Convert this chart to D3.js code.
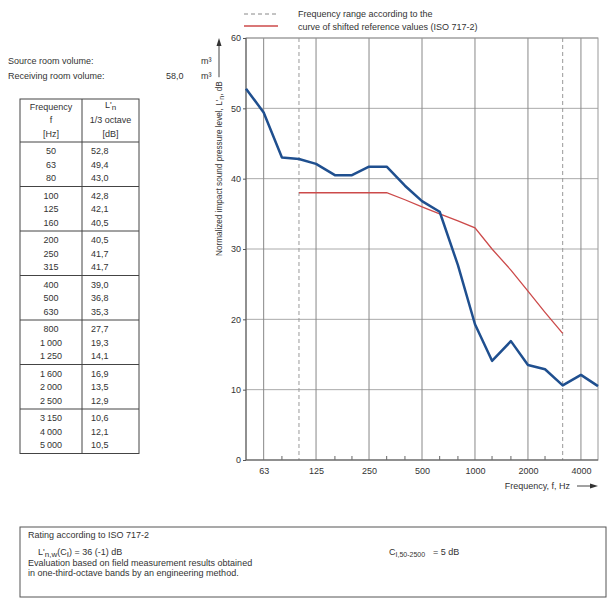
<!DOCTYPE html>
<html>
<head>
<meta charset="utf-8">
<script src="https://cdn.jsdelivr.net/npm/d3@7"></script>
<style>
  body { margin: 0; background: #fff; }
  svg { display: block; font-family: "Liberation Sans", Arial, sans-serif; }
  text { fill: #333; font-size: 9px; }
</style>
</head>
<body>
<script>
(function() {
  'use strict';

  // 1/3 octave band centre frequencies and measured L'n
  const freqs = [50, 63, 80, 100, 125, 160, 200, 250, 315, 400, 500, 630,
    800, 1000, 1250, 1600, 2000, 2500, 3150, 4000, 5000];
  const levels = [52.8, 49.4, 43.0, 42.8, 42.1, 40.5, 40.5, 41.7, 41.7, 39.0, 36.8, 35.3,
    27.7, 19.3, 14.1, 16.9, 13.5, 12.9, 10.6, 12.1, 10.5];

  // shifted reference curve (ISO 717-2)
  const refFreqs = [100, 125, 160, 200, 250, 315, 400, 500, 630, 800, 1000, 1250, 1600, 2000, 2500, 3150];
  const refValues = [38, 38, 38, 38, 38, 38, 37, 36, 35, 34, 33, 30, 27, 24, 21, 18];

  const octaveTicks = [63, 125, 250, 500, 1000, 2000, 4000];
  const rangeLimits = [100, 3150];
  const yTicks = [0, 10, 20, 30, 40, 50, 60];

  const w = 608;
  const h = 602;
  const left = 246, right = 598, top = 38, bottom = 460;

  const svg = d3.select('body').append('svg')
    .attr('width', w)
    .attr('height', h);

  const x = d3.scaleLog().domain([50, 5000]).range([left, right]);
  const y = d3.scaleLinear().domain([0, 60]).range([bottom, top]);

  const loc = d3.formatLocale({decimal: ',', thousands: '\u2009', grouping: [3], currency: ['', '']});
  const fmtFreq = loc.format(',d');
  const fmtVal = loc.format('.1f');

  // header texts
  svg.append('text').attr('x', 8).attr('y', 64).text('Source room volume:');
  svg.append('text').attr('x', 201).attr('y', 64).text('m³');
  svg.append('text').attr('x', 8).attr('y', 79).text('Receiving room volume:');
  svg.append('text').attr('x', 166).attr('y', 79).text('58,0');
  svg.append('text').attr('x', 201).attr('y', 79).text('m³');

  // legend
  svg.append('line').attr('x1', 244).attr('x2', 278).attr('y1', 14).attr('y2', 14)
    .attr('stroke', '#888').attr('stroke-dasharray', '4,3');
  svg.append('line').attr('x1', 244).attr('x2', 278).attr('y1', 26).attr('y2', 26)
    .attr('stroke', '#cc4a4a').attr('stroke-width', 1.3);
  svg.append('text').attr('x', 298).attr('y', 17).text('Frequency range according to the');
  svg.append('text').attr('x', 298).attr('y', 30).text('curve of  shifted reference values (ISO 717-2)');

  // table
  const tLeft = 20, tMid = 82, tRight = 139, tTop = 99, tHead = 142, groupH = 44.5;
  const table = svg.append('g');
  const nGroups = freqs.length / 3;
  const tBottom = tHead + nGroups * groupH;
  table.append('rect').attr('x', tLeft).attr('y', tTop)
    .attr('width', tRight - tLeft).attr('height', tBottom - tTop)
    .attr('fill', 'none').attr('stroke', '#444');
  table.append('line').attr('x1', tMid).attr('x2', tMid).attr('y1', tTop).attr('y2', tBottom)
    .attr('stroke', '#444');
  table.selectAll('line.sep').data(d3.range(nGroups))
    .enter().append('line')
    .attr('class', 'sep')
    .attr('x1', tLeft).attr('x2', tRight)
    .attr('y1', (d) => tHead + d * groupH).attr('y2', (d) => tHead + d * groupH)
    .attr('stroke', '#444');
  const c1 = (tLeft + tMid) / 2, c2 = (tMid + tRight) / 2;
  table.append('text').attr('x', c1).attr('y', 110).attr('text-anchor', 'middle').text('Frequency');
  table.append('text').attr('x', c1).attr('y', 123).attr('text-anchor', 'middle').text('f');
  table.append('text').attr('x', c1).attr('y', 137).attr('text-anchor', 'middle').text('[Hz]');
  const lh = table.append('text').attr('x', c2).attr('y', 108).attr('text-anchor', 'middle');
  lh.append('tspan').text('L\'');
  lh.append('tspan').attr('dy', 2).attr('font-size', '8px').text('n');
  table.append('text').attr('x', c2).attr('y', 123).attr('text-anchor', 'middle').text('1/3 octave');
  table.append('text').attr('x', c2).attr('y', 137).attr('text-anchor', 'middle').text('[dB]');

  const rowY = (i) => tHead + Math.floor(i / 3) * groupH + 12 + (i % 3) * 13.5;
  table.selectAll('text.f').data(freqs)
    .enter().append('text')
    .attr('class', 'f')
    .attr('x', c1).attr('y', (d, i) => rowY(i))
    .attr('text-anchor', 'middle')
    .text((d) => fmtFreq(d));
  table.selectAll('text.v').data(levels)
    .enter().append('text')
    .attr('class', 'v')
    .attr('x', 91).attr('y', (d, i) => rowY(i))
    .text((d) => fmtVal(d));

  // plot grid
  const plot = svg.append('g');
  plot.selectAll('line.hg').data(yTicks.slice(1))
    .enter().append('line')
    .attr('class', 'hg')
    .attr('x1', left).attr('x2', right)
    .attr('y1', (d) => y(d)).attr('y2', (d) => y(d))
    .attr('stroke', '#aaa');
  plot.selectAll('line.vg').data(octaveTicks)
    .enter().append('line')
    .attr('class', 'vg')
    .attr('x1', (d) => x(d)).attr('x2', (d) => x(d))
    .attr('y1', top).attr('y2', bottom)
    .attr('stroke', '#888');
  plot.selectAll('line.dg').data(rangeLimits)
    .enter().append('line')
    .attr('class', 'dg')
    .attr('x1', (d) => x(d)).attr('x2', (d) => x(d))
    .attr('y1', top).attr('y2', bottom)
    .attr('stroke', '#999').attr('stroke-dasharray', '4,3');
  // minor ticks on the other bands
  const minor = freqs.filter((f) => octaveTicks.indexOf(f) < 0 && rangeLimits.indexOf(f) < 0 && f > 50 && f < 5000);
  plot.selectAll('line.mt').data(minor)
    .enter().append('line')
    .attr('class', 'mt')
    .attr('x1', (d) => x(d)).attr('x2', (d) => x(d))
    .attr('y1', bottom - 4).attr('y2', bottom)
    .attr('stroke', '#666');
  plot.append('rect').attr('x', left).attr('y', top)
    .attr('width', right - left).attr('height', bottom - top)
    .attr('fill', 'none').attr('stroke', '#999');
  plot.append('line').attr('x1', left).attr('x2', left).attr('y1', top).attr('y2', bottom)
    .attr('stroke', '#555');
  plot.append('line').attr('x1', left).attr('x2', right).attr('y1', bottom).attr('y2', bottom)
    .attr('stroke', '#555');

  // axes
  const yAxis = d3.axisLeft(y).tickValues(yTicks).tickSize(3).tickPadding(2);
  svg.append('g')
    .attr('transform', 'translate(' + left + ',0)')
    .call(yAxis)
    .call((g) => g.select('.domain').remove())
    .call((g) => g.selectAll('line').attr('stroke', '#555'))
    .call((g) => g.selectAll('text').attr('font-size', '9px').attr('fill', '#333')
      .attr('font-family', null));

  const xAxis = d3.axisBottom(x).tickValues(octaveTicks).tickFormat(d3.format('d')).tickSize(0).tickPadding(8);
  svg.append('g')
    .attr('transform', 'translate(0,' + bottom + ')')
    .call(xAxis)
    .call((g) => g.select('.domain').remove())
    .call((g) => g.selectAll('text').attr('font-size', '9px').attr('fill', '#333')
      .attr('font-family', null));

  // y title with arrow
  const yt = svg.append('g').attr('transform', 'translate(222,256) rotate(-90)');
  const ytt = yt.append('text').attr('x', 0).attr('y', 0).style('font-size', '8.2px');
  ytt.append('tspan').text('Normalized impact sound pressure level, L\'');
  ytt.append('tspan').attr('dy', 2).attr('font-size', '7px').text('n');
  ytt.append('tspan').attr('dy', -2).text(', dB');
  const tl = ytt.node().getComputedTextLength();
  const tip = 256 - top;
  yt.append('line').attr('x1', tl + 4).attr('x2', tip - 5).attr('y1', -3).attr('y2', -3)
    .attr('stroke', '#444');
  yt.append('path').attr('d', 'M' + tip + ',-3L' + (tip - 8) + ',-5.5L' + (tip - 8) + ',-0.5Z')
    .attr('fill', '#333');

  // x title with arrow
  svg.append('text').attr('x', 570).attr('y', 489).attr('text-anchor', 'end').text('Frequency, f, Hz');
  svg.append('line').attr('x1', 577).attr('x2', 592).attr('y1', 486).attr('y2', 486).attr('stroke', '#444');
  svg.append('path').attr('d', 'M598,486L590,483.5L590,488.5Z').attr('fill', '#333');

  // curves
  const line = d3.line().x((d) => x(d[0])).y((d) => y(d[1]));
  svg.append('path')
    .datum(d3.zip(refFreqs, refValues))
    .attr('d', line)
    .attr('fill', 'none')
    .attr('stroke', '#cc4a4a')
    .attr('stroke-width', 1.3);
  svg.append('path')
    .datum(d3.zip(freqs, levels))
    .attr('d', line)
    .attr('fill', 'none')
    .attr('stroke', '#1f4f8f')
    .attr('stroke-width', 2.5)
    .attr('stroke-linejoin', 'round');

  // rating box
  svg.append('rect').attr('x', 20).attr('y', 527).attr('width', 586).attr('height', 70)
    .attr('fill', 'none').attr('stroke', '#555');
  svg.append('text').attr('x', 28).attr('y', 538).text('Rating according to ISO 717-2');
  const rt = svg.append('text').attr('x', 38).attr('y', 555);
  rt.append('tspan').text('L\'');
  rt.append('tspan').attr('dy', 2).attr('font-size', '8px').text('n,w');
  rt.append('tspan').attr('dy', -2).text('(C');
  rt.append('tspan').attr('dy', 2).attr('font-size', '8px').text('I');
  rt.append('tspan').attr('dy', -2).text(') = 36 (-1) dB');
  svg.append('text').attr('x', 28).attr('y', 566).text('Evaluation based on field measurement results obtained');
  svg.append('text').attr('x', 28).attr('y', 576).text('in one-third-octave bands by an engineering method.');
  const ct = svg.append('text').attr('x', 389).attr('y', 555);
  ct.append('tspan').text('C');
  ct.append('tspan').attr('dy', 2).attr('font-size', '7px').text('I,50-2500');
  svg.append('text').attr('x', 433).attr('y', 555).text('= 5 dB');
}());
</script>
</body>
</html>
